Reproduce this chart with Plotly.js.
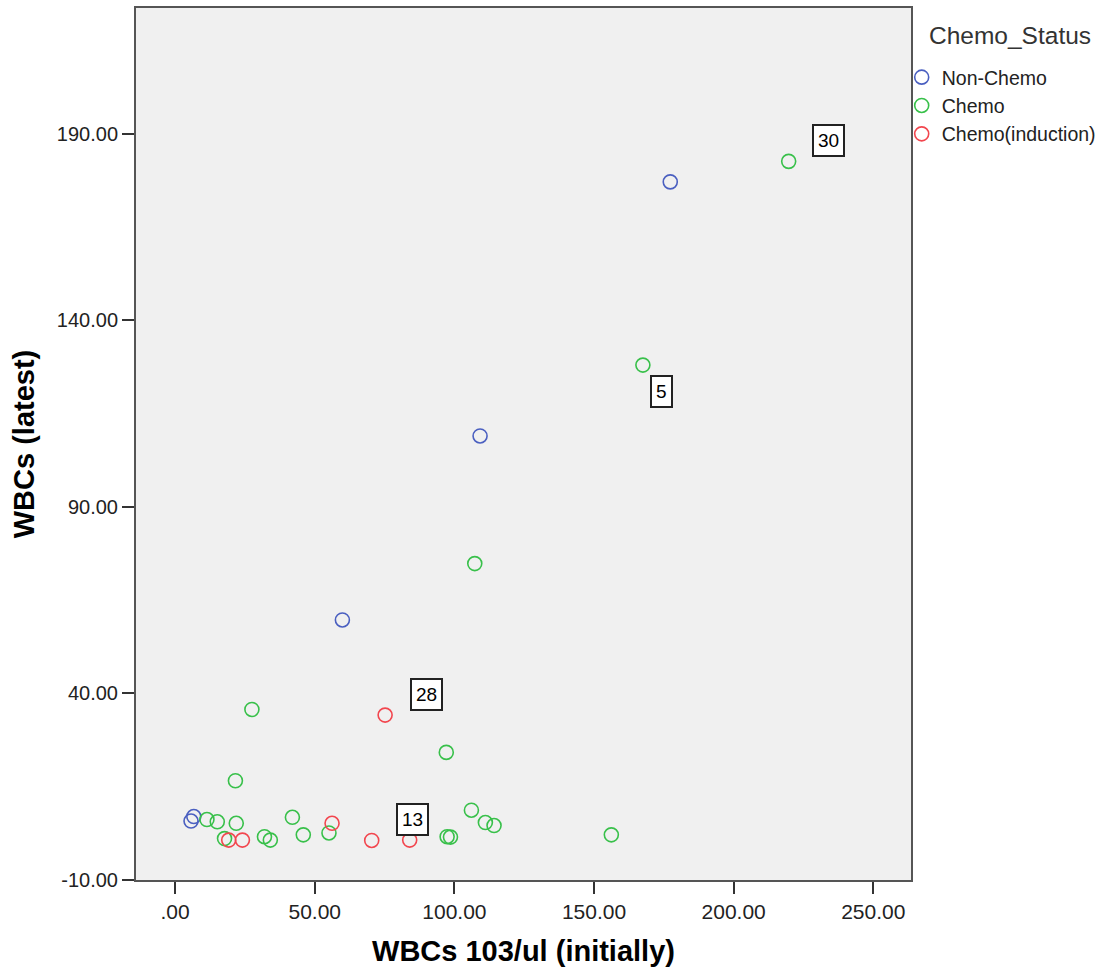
<!DOCTYPE html>
<html>
<head>
<meta charset="utf-8">
<script src="https://cdn.plot.ly/plotly-3.0.1.min.js"></script>
<style>html,body{margin:0;padding:0;background:#fff;}#chart{width:1112px;height:970px;}</style>
</head>
<body>
<div id="chart"></div>
<script>
// Data
const nonChemoX = [177.3, 109.2, 59.9, 5.7, 6.7];
const nonChemoY = [177.1, 109.0, 59.7, 5.8, 7.0];

const chemoX = [219.7, 167.5, 107.3, 27.5, 97.1, 21.6, 11.4, 15.1, 21.9, 17.7, 32.0, 34.1, 42.0, 45.9, 55.1, 97.4, 98.6, 106.1, 111.1, 114.2, 156.2];
const chemoY = [182.6, 128.0, 74.8, 35.7, 24.2, 16.6, 6.2, 5.6, 5.2, 1.1, 1.6, 0.7, 6.8, 2.1, 2.6, 1.6, 1.5, 8.7, 5.4, 4.6, 2.1];

const inductionX = [75.2, 19.2, 24.1, 56.2, 70.4, 84.0];
const inductionY = [34.2, 0.7, 0.7, 5.2, 0.6, 0.7];

// Case labels: attached to [series, index in series]
const caseLabels = ["30", "5", "28", "13"];
const caseSeries = ["chemo", "chemo", "induction", "induction"];
const caseIndex = [0, 1, 0, 5];

const xTickVals = [0, 50, 100, 150, 200, 250];
const xTickText = [".00", "50.00", "100.00", "150.00", "200.00", "250.00"];
const yTickVals = [-10, 40, 90, 140, 190];
const yTickText = ["-10.00", "40.00", "90.00", "140.00", "190.00"];

const legendTitle = "Chemo_Status";
const seriesNames = ["Non-Chemo", "Chemo", "Chemo(induction)"];
const seriesColors = ["#4a5fc0", "#38c04a", "#f2464e"];

const seriesX = {nonchemo: nonChemoX, chemo: chemoX, induction: inductionX};
const seriesY = {nonchemo: nonChemoY, chemo: chemoY, induction: inductionY};
const keys = ["nonchemo", "chemo", "induction"];

const traces = keys.map((k, i) => ({
  type: "scatter",
  mode: "markers",
  name: seriesNames[i],
  x: seriesX[k],
  y: seriesY[k],
  marker: {symbol: "circle-open", size: 14, color: seriesColors[i], line: {width: 1.6, color: seriesColors[i]}},
  hoverinfo: "x+y"
}));

const labelShift = {"30": [40, 21], "5": [19, -26], "28": [41, 21], "13": [3, 21]};
const annotations = caseLabels.map((t, i) => ({
  x: seriesX[caseSeries[i]][caseIndex[i]],
  y: seriesY[caseSeries[i]][caseIndex[i]],
  xref: "x", yref: "y",
  text: t,
  showarrow: false,
  xshift: labelShift[t][0],
  yshift: labelShift[t][1],
  bgcolor: "#ffffff",
  bordercolor: "#222222",
  borderwidth: 2,
  borderpad: 4,
  font: {family: "Liberation Sans, Arial, sans-serif", size: 19, color: "#000"}
}));

// legend title drawn as a text annotation beside the plot
annotations.push({
  xref: "paper", yref: "paper",
  x: 1.02, xanchor: "left",
  y: 0.968, yanchor: "middle",
  text: legendTitle,
  showarrow: false,
  font: {family: "Liberation Sans, Arial, sans-serif", size: 24.5, color: "#333"}
});

const layout = {
  width: 1112,
  height: 970,
  margin: {l: 136, r: 201, t: 8, b: 90},
  paper_bgcolor: "#ffffff",
  plot_bgcolor: "#f0f0f0",
  font: {family: "Liberation Sans, Arial, sans-serif", color: "#222"},
  showlegend: true,
  legend: {
    xref: "paper", yref: "paper",
    x: 0.988, xanchor: "left", y: 0.9427, yanchor: "top",
    font: {size: 19.5, color: "#222"},
    itemsizing: "trace",
    bgcolor: "rgba(0,0,0,0)",
    tracegroupgap: 0
  },
  xaxis: {
    range: [-14.0, 263.5],
    tickvals: xTickVals, ticktext: xTickText,
    ticks: "outside", ticklen: 12, tickwidth: 2, tickcolor: "#333",
    tickfont: {size: 21, color: "#222"},
    showgrid: false, zeroline: false,
    showline: true, mirror: true, linecolor: "#555", linewidth: 2,
    title: {text: "WBCs 103/ul (initially)", font: {size: 29, color: "#000", weight: "bold"}, standoff: 18}
  },
  yaxis: {
    range: [-10, 223.7],
    tickvals: yTickVals, ticktext: yTickText,
    ticks: "outside", ticklen: 12, tickwidth: 2, tickcolor: "#333",
    tickfont: {size: 20, color: "#222"},
    showgrid: false, zeroline: false,
    showline: true, mirror: true, linecolor: "#555", linewidth: 2,
    title: {text: "WBCs (latest)", font: {size: 29, color: "#000", weight: "bold"}, standoff: 14}
  },
  annotations: annotations
};

Plotly.newPlot("chart", traces, layout, {displayModeBar: false, staticPlot: true});
</script>
</body>
</html>
